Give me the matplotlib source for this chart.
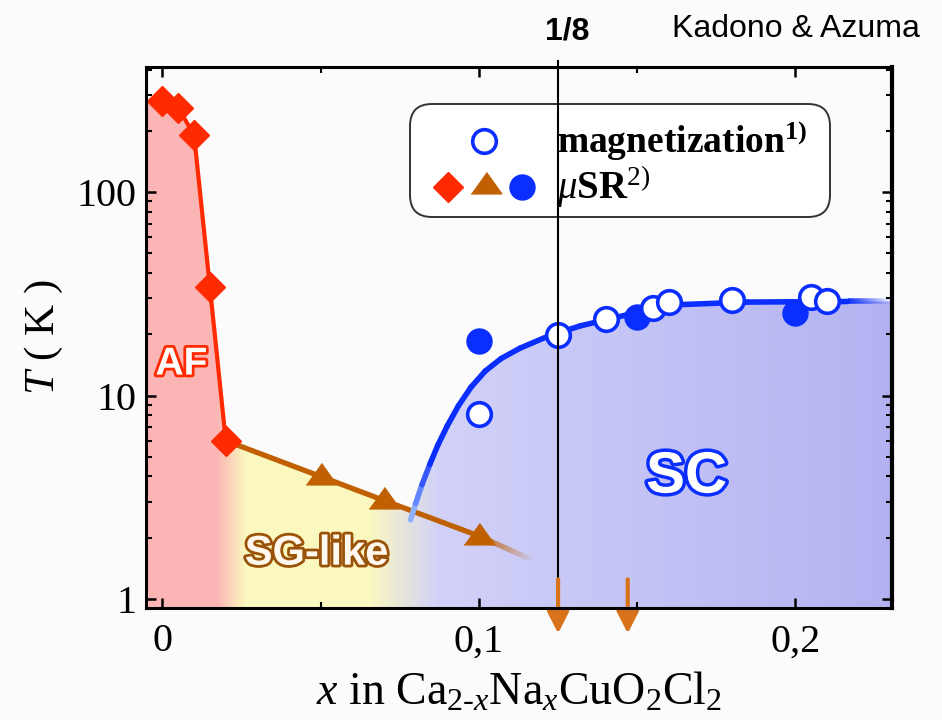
import numpy as np
import matplotlib
matplotlib.use("Agg")
import matplotlib.pyplot as plt
import matplotlib.patheffects as pe
from matplotlib.patches import Polygon, FancyBboxPatch
from matplotlib.collections import LineCollection
from matplotlib.colors import to_rgb
from matplotlib import transforms as mtrans
from matplotlib.ticker import FixedLocator, FixedFormatter, LogLocator, MultipleLocator, NullFormatter

plt.rcParams["mathtext.fontset"] = "custom"
plt.rcParams["mathtext.rm"] = "Liberation Serif"
plt.rcParams["mathtext.it"] = "Liberation Serif:italic"
plt.rcParams["mathtext.bf"] = "Liberation Serif:bold"

# ---- data -------------------------------------------------------------
# antiferromagnetic transition (muSR, diamonds)
af_x = [0.0, 0.005, 0.010, 0.015, 0.020]
af_T = [280, 260, 190, 34, 6.0]
# spin-glass-like freezing (muSR, triangles)
sg_x = [0.05, 0.07, 0.10]
sg_T = [4.0, 3.05, 2.04]
sg_end = (0.117, 1.55)
# superconducting Tc from muSR (filled circles)
mu_x = [0.10, 0.15, 0.20]
mu_T = [18.5, 24.2, 25.4]
# superconducting Tc from magnetization (open circles)
mag_x = [0.10, 0.125, 0.14, 0.155, 0.16, 0.18, 0.205, 0.21]
mag_T = [8.1, 19.8, 23.7, 26.8, 28.7, 29.4, 30.4, 29.0]
# Tc dome guide line
tc_x = [0.0784, 0.0800, 0.0820, 0.0845, 0.0870, 0.0900, 0.0935, 0.0975,
        0.1020, 0.1070, 0.1130, 0.1216, 0.1320, 0.1480, 0.1637, 0.1850, 0.2165]
tc_T = [2.45, 2.95, 3.65, 4.6, 5.7, 7.1, 8.9, 11.0,
        13.2, 15.2, 17.1, 19.5, 22.0, 25.2, 28.0, 28.8, 29.0]
x_eighth = 0.125
arrow_x = [0.125, 0.147]
x_ticks = [0.0, 0.1, 0.2]
x_ticklabels = ["0", "0,1", "0,2"]
y_ticks = [1, 10, 100]
y_ticklabels = ["1", "10", "100"]

XMIN, XMAX = -0.0052, 0.2305
YMIN, YMAX = 0.903, 412

RED = "#ff2a00"
BROWN = "#c06000"
BLUE = "#0a2eff"
ORANGE = "#d8731c"
PINK = (0.99, 0.71, 0.71)
YELLOW = (0.985, 0.975, 0.75)
LAV_L = (0.82, 0.82, 0.975)
LAV_R = (0.70, 0.70, 0.95)
BG = "#fbfbfb"

fig = plt.figure(figsize=(9.42, 7.2), dpi=100, facecolor=BG)
ax = fig.add_axes([146 / 942, 112 / 720, 746 / 942, 541 / 720])
ax.set_facecolor(BG)
ax.set_yscale("log")
ax.set_xlim(XMIN, XMAX)
ax.set_ylim(YMIN, YMAX)

# ---- phase regions: horizontal colour gradient clipped to the phase boundary
xs = np.linspace(XMIN, XMAX, 800)
stops_x = [XMIN, 0.017, 0.026, 0.065, 0.087, XMAX]
stops_c = [PINK, PINK, YELLOW, YELLOW, LAV_L, LAV_R]
img = np.zeros((2, xs.size, 3))
for ch in range(3):
    img[:, :, ch] = np.interp(xs, stops_x, [c[ch] for c in stops_c])
im = ax.imshow(img, extent=[XMIN, XMAX, YMIN, YMAX], aspect="auto",
               origin="lower", interpolation="bilinear", zorder=0)
boundary = [(XMIN, YMIN), (XMIN, 290)]
boundary += list(zip(af_x, af_T))
boundary += list(zip(sg_x[:2], sg_T[:2]))
boundary += [(tc_x[0], 2.72)]
boundary += list(zip(tc_x, tc_T))
boundary += [(XMAX, tc_T[-1]), (XMAX, YMIN)]
clip = Polygon(boundary, closed=True, transform=ax.transData)
im.set_clip_path(clip)


def faded_line(x0, y0, x1, y1, color, lw, a0=1.0, a1=0.0, n=40, zorder=2):
    t = np.linspace(0, 1, n + 1)
    px = x0 + (x1 - x0) * t
    py = 10 ** (np.log10(y0) + (np.log10(y1) - np.log10(y0)) * t)
    segs = np.stack([np.column_stack([px[:-1], py[:-1]]),
                     np.column_stack([px[1:], py[1:]])], axis=1)
    tm = (t[:-1] + t[1:]) / 2
    cols = [(*to_rgb(color), a0 + (a1 - a0) * v) for v in tm]
    ax.add_collection(LineCollection(segs, colors=cols, linewidths=lw,
                                     capstyle="butt", zorder=zorder))


# ---- boundary lines
ax.plot(af_x, af_T, color=RED, lw=3.0, zorder=2, solid_capstyle="round")
ax.plot([af_x[-1]] + sg_x, [af_T[-1]] + sg_T, color=BROWN, lw=3.8, zorder=2)
faded_line(sg_x[-1], sg_T[-1], sg_end[0], sg_end[1], BROWN, 3.8, 1.0, 0.0)

# Tc guide: pale at the foot, fading out on the right
tc_pts = np.column_stack([tc_x, tc_T])
tc_segs = np.stack([tc_pts[:-1], tc_pts[1:]], axis=1)
pale = np.array(to_rgb("#8fb0ff"))
deep = np.array(to_rgb(BLUE))
tc_cols = []
for i in range(len(tc_segs)):
    f = min(1.0, i / 3.0)
    tc_cols.append(tuple(pale * (1 - f) + deep * f))
ax.add_collection(LineCollection(tc_segs, colors=tc_cols, linewidths=4.0,
                                 capstyle="round", joinstyle="round", zorder=2))
faded_line(tc_x[-1], tc_T[-1], XMAX, tc_T[-1], BLUE, 4.0, 1.0, 0.0)

# ---- data markers
tri = [(-1, -0.55), (1, -0.55), (0, 0.85)]
ax.plot(af_x, af_T, ls="none", marker="D", ms=15, color=RED, mec=RED, zorder=3)
ax.plot(sg_x, sg_T, ls="none", marker=tri, ms=22, color=BROWN, mec=BROWN, zorder=3)
ax.plot(mu_x, mu_T, ls="none", marker="o", ms=18, color=BLUE, mec=BLUE, zorder=3)
ax.plot(mag_x, mag_T, ls="none", marker="o", ms=17, mfc="white", mec=BLUE,
        mew=2.6, zorder=3)

# ---- region labels
sans = "Liberation Sans"
ax.text(0.0060, 14.2, "AF", fontsize=28, fontweight="bold", family=sans,
        color="white", ha="center", va="center", zorder=4,
        path_effects=[pe.withStroke(linewidth=4, foreground=RED)])
ax.text(0.0487, 1.67, "SG-like", fontsize=30, fontweight="bold", family=sans,
        color="#fff8ee", ha="center", va="center", zorder=4,
        path_effects=[pe.withStroke(linewidth=4, foreground="#9a5208")])
ax.text(0.1656, 3.95, "SC", fontsize=42, fontweight="bold", family=sans,
        color="white", ha="center", va="center", zorder=4,
        path_effects=[pe.withStroke(linewidth=5, foreground=BLUE)])

# ---- legend box
box = FancyBboxPatch((410, 720 - 217), 420, 113,
                     boxstyle="round,pad=0,rounding_size=22",
                     transform=mtrans.IdentityTransform(), facecolor="white",
                     edgecolor="#333333", lw=1.4, zorder=6, clip_on=False)
ax.add_patch(box)
fx = lambda px: (px - 146) / 746
fy = lambda py: (608 - py) / 541
ax.plot([fx(484)], [fy(141)], transform=ax.transAxes, marker="o", ms=17,
        mfc="white", mec=BLUE, mew=2.6, clip_on=False, zorder=7)
ax.plot([fx(448)], [fy(187)], transform=ax.transAxes, marker="D", ms=15,
        color=RED, clip_on=False, zorder=7)
ax.plot([fx(486)], [fy(185)], transform=ax.transAxes, marker=tri, ms=22,
        color=BROWN, clip_on=False, zorder=7)
ax.plot([fx(522)], [fy(187)], transform=ax.transAxes, marker="o", ms=18,
        color=BLUE, clip_on=False, zorder=7)
ax.text(fx(557), fy(141), r"magnetization$^{\mathbf{1)}}$", transform=ax.transAxes,
        fontsize=27, fontweight="bold", family="Liberation Serif",
        ha="left", va="center", zorder=8)
ax.text(fx(557), fy(187), r"$\mathit{μ}\mathbf{SR}^{2)}$", transform=ax.transAxes,
        fontsize=28, family="Liberation Serif", ha="left", va="center", zorder=8)

# ---- x = 1/8 marker line and arrows
blend = mtrans.blended_transform_factory(ax.transData, ax.transAxes)
ax.plot([x_eighth, x_eighth], [0.0, 1.011], transform=blend, color="black",
        lw=1.5, clip_on=False, zorder=9)
for xa in arrow_x:
    ax.annotate("", xy=(xa, -0.047), xytext=(xa, 0.053),
                xycoords=blend, textcoords=blend,
                arrowprops=dict(arrowstyle="-|>,head_length=0.65,head_width=0.33",
                                lw=3, color=ORANGE, mutation_scale=20,
                                shrinkA=0, shrinkB=0),
                zorder=9, annotation_clip=False)

fig.text(567 / 942, 1 - 32 / 720, "1/8", fontsize=23, fontweight="bold",
         family=sans, ha="center", va="center")
fig.text(672 / 942, 1 - 29 / 720, "Kadono & Azuma", fontsize=23,
         family=sans, ha="left", va="center")

# ---- axes styling
for side, sp in ax.spines.items():
    sp.set_linewidth(2.2)
    sp.set_zorder(10)
ax.spines["right"].set_linewidth(3.0)
ax.xaxis.set_major_locator(FixedLocator(x_ticks))
ax.xaxis.set_major_formatter(FixedFormatter(x_ticklabels))
ax.xaxis.set_minor_locator(MultipleLocator(0.05))
ax.yaxis.set_major_locator(FixedLocator(y_ticks))
ax.yaxis.set_major_formatter(FixedFormatter(y_ticklabels))
ax.yaxis.set_minor_locator(LogLocator(base=10, subs=np.arange(2, 10)))
ax.yaxis.set_minor_formatter(NullFormatter())
ax.tick_params(which="both", direction="in", top=True, right=True, zorder=10)
ax.tick_params(which="major", length=7, width=1.8)
ax.tick_params(which="minor", length=4.5, width=1.5)
ax.tick_params(axis="x", which="major", pad=11)
ax.tick_params(axis="y", which="major", pad=7)
for lab in ax.get_xticklabels() + ax.get_yticklabels():
    lab.set_family("Liberation Serif")
    lab.set_fontsize(29)

ax.set_xlabel(r"$x$ in Ca$_{2\text{-}x}$Na$_x$CuO$_2$Cl$_2$", fontsize=33,
              family="Liberation Serif", labelpad=8)
ax.set_ylabel(r"$T$ ( K )", fontsize=31, family="Liberation Serif", labelpad=8)

fig.savefig("out.png", dpi=100, facecolor=BG)
